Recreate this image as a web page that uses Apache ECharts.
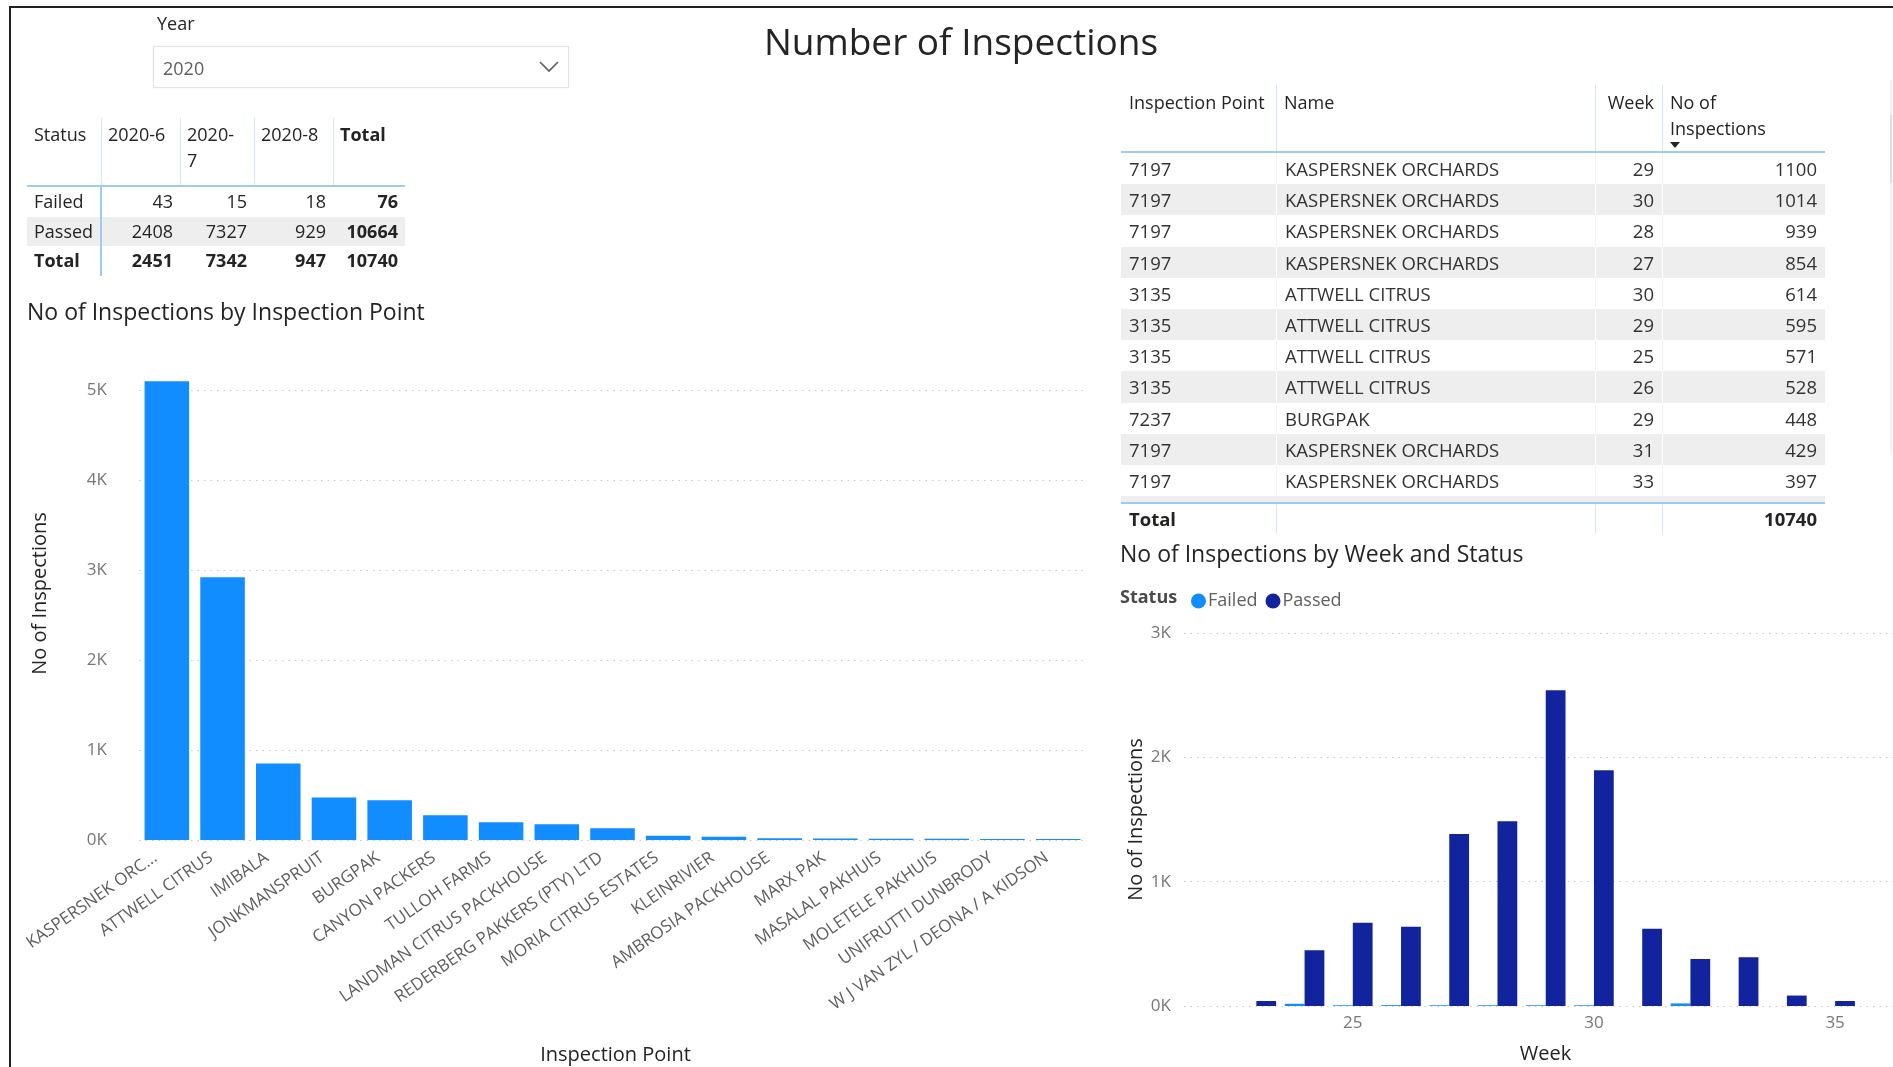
<!DOCTYPE html>
<html>
<head>
<meta charset="utf-8">
<script src="https://cdn.jsdelivr.net/npm/echarts@6/dist/echarts.min.js"></script>
<style>
  html, body { margin:0; padding:0; background:#fff; }
  body { width:1893px; height:1067px; position:relative; overflow:hidden; font-family:'Open Sans', sans-serif; color:#252423; }
  #chart { position:absolute; left:0; top:0; width:1893px; height:1067px; }
  .abs { position:absolute; box-sizing:border-box; }
  .cell { position:absolute; box-sizing:border-box; white-space:nowrap; overflow:hidden; }
  .num { text-align:right; }
</style>
</head>
<body>
<div id="chart"></div>
<div id="overlay"></div>
<script>
// ---------- data ----------
const years = ['2020'];
const statuses = ['Failed', 'Passed'];
const months = ['2020-6', '2020-7', '2020-8'];
const failedByMonth = [43, 15, 18];
const passedByMonth = [2408, 7327, 929];

const tableHeaders = ['Inspection Point', 'Name', 'Week', 'No of Inspections'];
const tblPoint = ['7197', '7197', '7197', '7197', '3135', '3135', '3135', '3135', '7237', '7197', '7197'];
const tblName = ['KASPERSNEK ORCHARDS', 'KASPERSNEK ORCHARDS', 'KASPERSNEK ORCHARDS', 'KASPERSNEK ORCHARDS',
  'ATTWELL CITRUS', 'ATTWELL CITRUS', 'ATTWELL CITRUS', 'ATTWELL CITRUS', 'BURGPAK',
  'KASPERSNEK ORCHARDS', 'KASPERSNEK ORCHARDS'];
const tblWeek = [29, 30, 28, 27, 30, 29, 25, 26, 29, 31, 33];
const tblCount = [1100, 1014, 939, 854, 614, 595, 571, 528, 448, 429, 397];

const inspectionPoints = ['KASPERSNEK ORCHARDS', 'ATTWELL CITRUS', 'IMIBALA', 'JONKMANSPRUIT', 'BURGPAK',
  'CANYON PACKERS', 'TULLOH FARMS', 'LANDMAN CITRUS PACKHOUSE', 'REDERBERG PAKKERS (PTY) LTD',
  'MORIA CITRUS ESTATES', 'KLEINRIVIER', 'AMBROSIA PACKHOUSE', 'MARX PAK', 'MASALAL PAKHUIS',
  'MOLETELE PAKHUIS', 'UNIFRUTTI DUNBRODY', 'W J VAN ZYL / DEONA / A KIDSON'];
const inspectionsByPoint = [5096, 2919, 849, 471, 441, 274, 197, 174, 130, 48, 37, 19, 18, 14, 13, 12, 11];
const pointTicks = [0, 1000, 2000, 3000, 4000, 5000];

const weeks = [23, 24, 25, 26, 27, 28, 29, 30, 31, 32, 33, 34, 35];
const failedByWeek = [null, 18, 6, 7, 6, 6, 6, 6, null, 21, null, null, null];
const passedByWeek = [40, 449, 670, 638, 1384, 1486, 2540, 1897, 622, 378, 392, 84, 40];
const weekTicks = [25, 30, 35];

// ---------- HTML parts (slicer + tables) ----------
const ov = document.getElementById('overlay');
function el(tag, cls, style, text) {
  const e = document.createElement(tag);
  if (cls) e.className = cls;
  Object.assign(e.style, style || {});
  if (text !== undefined) e.textContent = text;
  ov.appendChild(e);
  return e;
}
// frame lines
el('div', 'abs', {left:'9px', top:'6px', width:'1884px', height:'2px', background:'#1d2125'});
el('div', 'abs', {left:'9px', top:'6px', width:'2px', height:'1061px', background:'#1d2125'});
el('div', 'abs', {left:'1890px', top:'80px', width:'2px', height:'375px', background:'#f3f3f3'});
el('div', 'abs', {left:'1890px', top:'115px', width:'2px', height:'68px', background:'#dedede'});

// slicer
el('div', 'abs', {left:'157px', top:'10px', fontSize:'18px', color:'#252423', lineHeight:'26px'}, 'Year');
el('div', 'abs', {left:'153px', top:'46px', width:'416px', height:'42px', border:'1px solid #e3e3e3',
  boxShadow:'0 0 2px rgba(0,0,0,0.06)'});
el('div', 'abs', {left:'163px', top:'54px', fontSize:'18px', color:'#605e5c', lineHeight:'28px'}, years[0]);
ov.insertAdjacentHTML('beforeend',
  '<svg style="position:absolute;left:538px;top:58px" width="22" height="16"><polyline points="2,4 11,13 20,4" fill="none" stroke="#605e5c" stroke-width="1.6"/></svg>');

// matrix table
(function () {
  const L = 27, T = 118;
  const widths = [74, 79, 74, 79, 72];
  const xs = [0]; widths.forEach((w, i) => xs.push(xs[i] + w));
  const headH = 67, rowH = 29.5;
  const head = ['Status'].concat(months).concat(['Total']);
  head.forEach((h, i) => {
    el('div', 'cell', {left:(L + xs[i]) + 'px', top:T + 'px', width:widths[i] + 'px', height:headH + 'px',
      padding:'3px 12px 0 7px', fontSize:'18px', lineHeight:'26px', whiteSpace:'normal', color:'#252423',
      fontWeight: i === head.length - 1 ? '700' : '400'}, h);
    if (i > 0) el('div', 'abs', {left:(L + xs[i]) + 'px', top:T + 'px', width:'1px', height:headH + 'px', background:'#d6e7f8'});
  });
  el('div', 'abs', {left:L + 'px', top:(T + headH) + 'px', width:xs[5] + 'px', height:'2px', background:'#9fcaf3'});
  const rows = [
    {label: statuses[0], vals: failedByMonth},
    {label: statuses[1], vals: passedByMonth},
    {label: 'Total', vals: failedByMonth.map((v, i) => v + passedByMonth[i]), bold: true}
  ];
  rows.forEach((r, ri) => {
    const top = T + headH + 2 + ri * rowH;
    if (ri === 1) el('div', 'abs', {left:L + 'px', top:top + 'px', width:xs[5] + 'px', height:rowH + 'px', background:'#eeeeee'});
    const total = r.vals.reduce((a, b) => a + b, 0);
    const cells = [r.label].concat(r.vals).concat([total]);
    cells.forEach((c, ci) => {
      el('div', 'cell' + (ci > 0 ? ' num' : ''), {left:(L + xs[ci]) + 'px', top:top + 'px', width:widths[ci] + 'px',
        height:rowH + 'px', lineHeight:rowH + 'px', padding:'0 7px', fontSize:'18px', color:'#252423',
        fontWeight:(r.bold || ci === cells.length - 1) ? '700' : '400'}, String(c));
    });
  });
  el('div', 'abs', {left:(L + xs[1] - 1) + 'px', top:(T + headH) + 'px', width:'2px', height:(2 + 3 * rowH) + 'px', background:'#9fcaf3'});
})();

// right table
(function () {
  const L = 1121, T = 85;
  const widths = [155, 319, 67, 163];
  const xs = [0]; widths.forEach((w, i) => xs.push(xs[i] + w));
  const headH = 66, rowH = 31.2;
  tableHeaders.forEach((h, i) => {
    const c = el('div', 'cell' + (i === 2 ? ' num' : ''), {left:(L + xs[i]) + 'px', top:T + 'px', width:widths[i] + 'px',
      height:headH + 'px', padding:'4px 8px 0 8px', fontSize:'18px', lineHeight:'26px', whiteSpace:'normal', color:'#252423'});
    if (i === 3) {
      c.textContent = '';
      const t = document.createElement('div');
      t.style.width = '110px';
      t.textContent = h;
      c.appendChild(t);
    } else c.textContent = h;
    if (i > 0) el('div', 'abs', {left:(L + xs[i]) + 'px', top:T + 'px', width:'1px', height:headH + 'px', background:'#d6e7f8'});
  });
  // sort arrow
  el('div', 'abs', {left:(L + xs[3] + 8) + 'px', top:(T + 57) + 'px', width:0, height:0,
    borderLeft:'5px solid transparent', borderRight:'5px solid transparent', borderTop:'6px solid #252423'});
  el('div', 'abs', {left:L + 'px', top:(T + headH) + 'px', width:xs[4] + 'px', height:'2px', background:'#9fcaf3'});
  const bodyTop = T + headH + 2;
  tblPoint.forEach((p, ri) => {
    const top = bodyTop + ri * rowH;
    const gray = ri % 2 === 1;
    if (gray) el('div', 'abs', {left:L + 'px', top:top + 'px', width:xs[4] + 'px', height:rowH + 'px', background:'#eeeeee'});
    const cells = [p, tblName[ri], String(tblWeek[ri]), String(tblCount[ri])];
    cells.forEach((c, ci) => {
      el('div', 'cell' + (ci >= 2 ? ' num' : ''), {left:(L + xs[ci]) + 'px', top:top + 'px', width:widths[ci] + 'px',
        height:rowH + 'px', lineHeight:rowH + 'px', padding:'0 8px', fontSize:'18.5px', color:'#333',
        borderLeft: ci > 0 ? ('1px solid ' + (gray ? '#ffffff' : '#f3f3f3')) : 'none'}, c);
    });
  });
  const endTop = bodyTop + tblPoint.length * rowH;
  el('div', 'abs', {left:L + 'px', top:endTop + 'px', width:xs[4] + 'px', height:'6px', background:'#eeeeee'});
  el('div', 'abs', {left:L + 'px', top:(endTop + 6) + 'px', width:xs[4] + 'px', height:'2px', background:'#9fcaf3'});
  const totTop = endTop + 8;
  const grand = failedByMonth.concat(passedByMonth).reduce((a, b) => a + b, 0);
  const tcells = ['Total', '', '', String(grand)];
  tcells.forEach((c, ci) => {
    el('div', 'cell' + (ci >= 2 ? ' num' : ''), {left:(L + xs[ci]) + 'px', top:totTop + 'px', width:widths[ci] + 'px',
      height:'30px', lineHeight:'30px', padding:'0 8px', fontSize:'18.5px', color:'#252423', fontWeight:'700'}, c);
    if (ci > 0) el('div', 'abs', {left:(L + xs[ci]) + 'px', top:totTop + 'px', width:'1px', height:'30px', background:'#d6e7f8'});
  });
})();

// ---------- charts ----------
const chart = echarts.init(document.getElementById('chart'), null, {renderer: 'canvas'});
const gridLine = {show: true, lineStyle: {color: '#c8c8c8', type: [1.5, 5], width: 1.2}};
const kFmt = v => (v / 1000) + 'K';
const option = {
  backgroundColor: '#ffffff',
  animation: false,
  textStyle: {fontFamily: 'Open Sans'},
  title: [
    {text: 'Number of Inspections', left: 961, top: 26, textAlign: 'center', padding: 0,
      textStyle: {fontSize: 37, fontWeight: 'normal', color: '#252423', fontFamily: 'Open Sans'}},
    {text: 'No of Inspections by Inspection Point', left: 27, top: 302, padding: 0,
      textStyle: {fontSize: 23, fontWeight: 'normal', color: '#252423', fontFamily: 'Open Sans'}},
    {text: 'No of Inspections by Week and Status', left: 1120, top: 544, padding: 0,
      textStyle: {fontSize: 23, fontWeight: 'normal', color: '#252423', fontFamily: 'Open Sans'}}
  ],
  legend: {
    data: ['Failed', 'Passed'], left: 1191, top: 592, icon: 'circle', itemWidth: 15, itemHeight: 15, itemGap: 8,
    padding: 0, textStyle: {fontSize: 18, color: '#605e5c', fontFamily: 'Open Sans', padding: [0, 0, 0, -3]}
  },
  graphic: [
    {type: 'text', left: 1120, top: 589, style: {text: 'Status', font: 'bold 18px "Open Sans"', fill: '#4a4a4a'}}
  ],
  grid: [
    {left: 139, top: 381, width: 947, height: 459},
    {left: 1184, top: 633, width: 709, height: 373}
  ],
  xAxis: [
    {type: 'category', gridIndex: 0, data: inspectionPoints,
      name: 'Inspection Point', nameLocation: 'middle', nameGap: 205,
      nameTextStyle: {fontSize: 20, color: '#252423', padding: [0, 0, 0, 6]},
      axisLine: {show: false}, axisTick: {show: false},
      axisLabel: {rotate: 35, interval: 0, fontSize: 17, color: '#605e5c', margin: 8, padding: [0, 14, 0, 0],
        formatter: (v, i) => (i === 0 ? v.slice(0, 14) + '...' : v)}},
    {type: 'value', gridIndex: 1, min: 21.5, max: 36.2,
      name: 'Week', nameLocation: 'middle', nameGap: 38,
      nameTextStyle: {fontSize: 20, color: '#252423', padding: [0, 0, 0, 14]},
      axisLine: {show: false}, axisTick: {show: false, customValues: weekTicks},
      splitLine: {show: false},
      axisLabel: {customValues: weekTicks, fontSize: 17, color: '#777777', margin: 9}}
  ],
  yAxis: [
    {type: 'value', gridIndex: 0, min: 0, max: 5100,
      name: 'No of Inspections', nameLocation: 'middle', nameGap: 89, nameRotate: 90,
      nameTextStyle: {fontSize: 20, color: '#252423', padding: [0, 0, 0, 34]},
      axisLine: {show: false}, axisTick: {show: false, customValues: pointTicks},
      axisLabel: {customValues: pointTicks, formatter: kFmt, fontSize: 17, color: '#777777', margin: 32},
      splitLine: gridLine},
    {type: 'value', gridIndex: 1, min: 0, max: 3000, interval: 1000,
      name: 'No of Inspections', nameLocation: 'middle', nameGap: 38, nameRotate: 90,
      nameTextStyle: {fontSize: 20, color: '#252423'},
      axisLine: {show: false}, axisTick: {show: false},
      axisLabel: {formatter: kFmt, fontSize: 17, color: '#777777', margin: 13},
      splitLine: gridLine}
  ],
  series: [
    {type: 'bar', name: 'Inspections', xAxisIndex: 0, yAxisIndex: 0, data: inspectionsByPoint,
      barCategoryGap: '20%', itemStyle: {color: '#118DFF'}},
    {type: 'bar', name: 'Failed', xAxisIndex: 1, yAxisIndex: 1,
      data: weeks.map((w, i) => [w, failedByWeek[i]]), barGap: '0%', barCategoryGap: '18%',
      itemStyle: {color: '#118DFF'}},
    {type: 'bar', name: 'Passed', xAxisIndex: 1, yAxisIndex: 1,
      data: weeks.map((w, i) => [w, passedByWeek[i]]), barGap: '0%', barCategoryGap: '18%',
      itemStyle: {color: '#12239E'}}
  ]
};
chart.setOption(option);
</script>
</body>
</html>
